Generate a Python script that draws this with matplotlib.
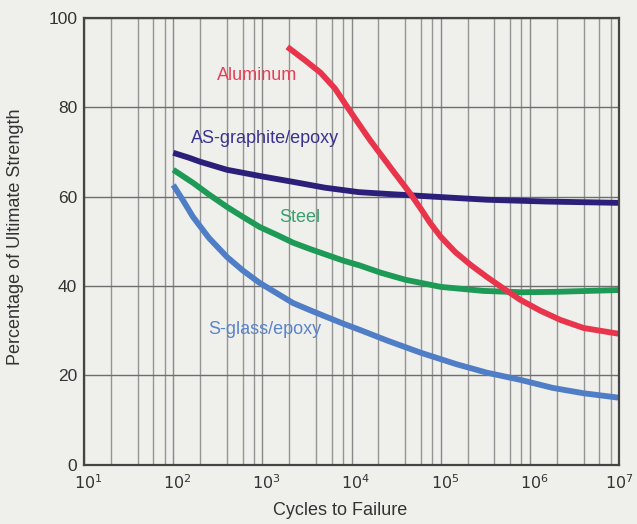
import matplotlib
matplotlib.use("Agg")
import matplotlib.pyplot as plt
import matplotlib.transforms as mtransforms
from matplotlib.ticker import LogLocator, NullFormatter, FixedLocator

plt.rcParams["font.family"] = ["Liberation Sans", "DejaVu Sans"]

# values (cycles, % of ultimate strength)
graphite_n = [100, 150, 200, 400, 1000, 2200, 5000, 12000, 25000, 45000, 120000, 330000, 1.5e6, 1e7]
graphite_s = [69.8, 68.7, 67.8, 66.0, 64.5, 63.3, 62.0, 61.0, 60.6, 60.3, 59.8, 59.3, 58.9, 58.6]

steel_n = [100, 166, 250, 400, 600, 930, 1500, 2200, 3500, 5200, 8000, 12300, 21000,
           40000, 100000, 300000, 800000, 2e6, 1e7]
steel_s = [66.0, 63.1, 60.5, 57.7, 55.5, 53.2, 51.3, 49.7, 48.2, 47.0, 45.7, 44.6, 43.0,
           41.4, 39.8, 38.9, 38.6, 38.7, 39.1]

sglass_n = [100, 130, 166, 250, 400, 600, 930, 1500, 2200, 3500, 5200, 8000, 12300,
            25000, 59000, 150000, 330000, 780000, 1.8e6, 4e6, 1e7]
sglass_s = [62.6, 59.0, 55.5, 50.8, 46.5, 43.5, 40.7, 38.2, 36.2, 34.5, 33.1, 31.6, 30.2,
            27.8, 25.1, 22.5, 20.6, 19.0, 17.2, 16.0, 15.0]

alu_n = [1900, 3000, 4500, 6500, 8900, 12000, 16000, 22000, 29000, 45000, 60000, 76000,
         100000, 145000, 220000, 330000, 500000, 780000, 1.3e6, 2.2e6, 4e6, 1e7]
alu_s = [93.5, 90.5, 87.7, 84.2, 80.1, 76.3, 72.7, 69.0, 65.8, 60.8, 57.2, 54.1,
         51.0, 47.6, 44.6, 42.0, 39.5, 36.9, 34.5, 32.4, 30.6, 29.3]

xticks = [1e1, 1e2, 1e3, 1e4, 1e5, 1e6, 1e7]
xlabels = ["$10^{1}$", "$10^{2}$", "$10^{3}$", "$10^{4}$", "$10^{5}$", "$10^{6}$", "$10^{7}$"]
yticks = [0, 20, 40, 60, 80, 100]

bg = "#efefec"
fig = plt.figure(figsize=(6.37, 5.24), dpi=100, facecolor=bg)
ax = fig.add_axes([0.132, 0.113, 0.840, 0.853], facecolor=bg)

ax.set_xscale("log")
ax.set_xlim(1e1, 1e7)
ax.set_ylim(0, 100)

ax.xaxis.set_major_locator(FixedLocator(xticks))
ax.set_xticks(xticks, xlabels)
ax.xaxis.set_minor_locator(LogLocator(base=10, subs=[2, 4, 6, 8]))
ax.xaxis.set_minor_formatter(NullFormatter())
ax.set_yticks(yticks)

ax.grid(True, which="major", axis="x", color="#888888", lw=1.0)
ax.grid(True, which="minor", axis="x", color="#949494", lw=1.0)
ax.grid(True, which="major", axis="y", color="#6e6e6e", lw=1.0)
ax.set_axisbelow(True)

ax.tick_params(which="both", length=0, colors="#333333")
ax.tick_params(axis="x", pad=6, labelsize=11.5)
ax.tick_params(axis="y", pad=5, labelsize=12.5)
# the decade labels sit a little right of their grid lines in the scan
shift = mtransforms.ScaledTranslation(3 / 72, 0, fig.dpi_scale_trans)
for lab in ax.get_xticklabels()[:-1]:
    lab.set_transform(lab.get_transform() + shift)

for s in ax.spines.values():
    s.set_color("#444444")
    s.set_linewidth(1.6)

line_kw = dict(lw=4.2, solid_capstyle="butt", solid_joinstyle="round")
ax.plot(graphite_n, graphite_s, color="#2b1f7a", **line_kw)
ax.plot(steel_n, steel_s, color="#1e9a57", **line_kw)
ax.plot(sglass_n, sglass_s, color="#4f7dc6", **line_kw)
ax.plot(alu_n, alu_s, color="#e8354b", **line_kw)

ax.text(870, 87.0, "Aluminum", color="#e8415a", fontsize=13, ha="center", va="center")
ax.text(1070, 72.9, "AS-graphite/epoxy", color="#3a3290", fontsize=13, ha="center", va="center")
ax.text(2630, 55.3, "Steel", color="#3aa06e", fontsize=13, ha="center", va="center")
ax.text(1070, 30.2, "S-glass/epoxy", color="#5b84c9", fontsize=13, ha="center", va="center")

ax.set_xlabel("Cycles to Failure", fontsize=13, color="#333333")
ax.xaxis.set_label_coords(0.478, -0.083)
ax.set_ylabel("Percentage of Ultimate Strength", fontsize=13, color="#333333")
ax.yaxis.set_label_coords(-0.112, 0.51)

fig.savefig("out.png", dpi=100, facecolor=bg)
